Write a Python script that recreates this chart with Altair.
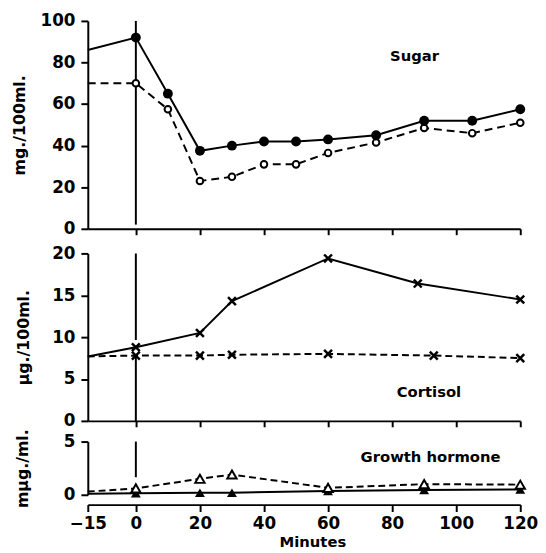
import altair as alt
import pandas as pd

FONT = "DejaVu Sans"

# ---- data ----
sugar_time = [-15, 0, 10, 20, 30, 40, 50, 60, 75, 90, 105, 120]
sugar_solid = [86, 92, 65, 37.5, 40, 42, 42, 43, 45, 52, 52, 57.5]
sugar_dashed = [70, 70, 57.5, 23, 25, 31, 31, 36.5, 41.5, 48.5, 46, 51]

cort_time_solid = [-15, 0, 20, 30, 60, 88, 120]
cort_solid = [7.7, 8.8, 10.5, 14.3, 19.4, 16.4, 14.5]
cort_time_dashed = [-15, 0, 20, 30, 60, 93, 120]
cort_dashed = [7.7, 7.8, 7.8, 7.9, 8.0, 7.8, 7.5]

gh_time = [-15, 0, 20, 30, 60, 90, 120]
gh_dashed = [0.3, 0.6, 1.5, 1.9, 0.65, 1.0, 0.95]
gh_solid = [0.1, 0.15, 0.2, 0.2, 0.35, 0.45, 0.5]

x_ticks = [-15, 0, 20, 40, 60, 80, 100, 120]
panel_labels = ["Sugar", "Cortisol", "Growth hormone"]
label_t = [87, 91.5, 92]
label_v = [83, 3.4, 3.5]

W = 439
xscale = alt.Scale(domain=[-15, 120], nice=False, zero=False)


def df(t, v):
    return pd.DataFrame({"t": t, "v": v})


def markers(t, v):
    d = df(t, v)
    return d[d["t"] > -15]


def x_enc(bottom):
    common = dict(grid=False, domainColor="black", tickColor="black",
                  domainWidth=2, tickWidth=2, labelFlush=False)
    if bottom:
        ax = alt.Axis(values=x_ticks, title="Minutes", offset=10, tickSize=7,
                      labelPadding=4, labelFont=FONT, labelFontSize=17,
                      labelFontWeight="bold", labelColor="black",
                      titleFont=FONT, titleFontSize=15, titleFontWeight="bold",
                      titleColor="black", titlePadding=4, titleX=228, **common)
    else:
        ax = alt.Axis(values=x_ticks[1:], labels=False, title=None, tickSize=6,
                      **common)
    return alt.X("t:Q", scale=xscale, axis=ax)


def y_enc(domain, values, title, tx):
    ax = alt.Axis(values=values, title=title, grid=False, domainColor="black",
                  tickColor="black", domainWidth=2, tickWidth=2, tickSize=7,
                  labelPadding=6, labelFont=FONT, labelFontSize=17,
                  labelFontWeight="bold", labelColor="black",
                  titleFont=FONT, titleFontSize=16, titleFontWeight="bold",
                  titleColor="black", titleX=tx, titleBaseline="alphabetic")
    return alt.Y("v:Q", scale=alt.Scale(domain=domain, nice=False), axis=ax)


def line(d, dash, X, Y):
    kw = dict(color="black", strokeWidth=2)
    if dash:
        kw["strokeDash"] = dash
    return alt.Chart(d).mark_line(**kw).encode(x=X, y=Y)


def label(i, X, Y):
    d = pd.DataFrame({"t": [label_t[i]], "v": [label_v[i]], "s": [panel_labels[i]]})
    return alt.Chart(d).mark_text(font=FONT, fontSize=15, fontWeight="bold",
                                  color="black").encode(x=X, y=Y, text="s:N")


def vrule(top, bottom, X, Y, dash=None):
    d = pd.DataFrame({"t": [0], "v": [top], "v2": [bottom]})
    kw = dict(color="black", strokeWidth=2)
    if dash:
        kw["strokeDash"] = dash
    return alt.Chart(d).mark_rule(**kw).encode(x=X, y=Y, y2="v2:Q")


# ---- Sugar panel ----
X1 = x_enc(False)
Y1 = y_enc([0, 100], [0, 20, 40, 60, 80, 100], "mg./100ml.", -64)
sugar = alt.layer(
    vrule(100, 2, X1, Y1),
    line(df(sugar_time, sugar_dashed), [8, 5], X1, Y1),
    line(df(sugar_time, sugar_solid), None, X1, Y1),
    alt.Chart(markers(sugar_time, sugar_dashed)).mark_point(
        shape="circle", filled=True, fill="white", stroke="black",
        strokeWidth=2, size=45, opacity=1).encode(x=X1, y=Y1),
    alt.Chart(markers(sugar_time, sugar_solid)).mark_point(
        shape="circle", filled=True, color="black", size=100, opacity=1
    ).encode(x=X1, y=Y1),
    label(0, X1, Y1),
).properties(width=W, height=211)

# ---- Cortisol panel ----
XSHAPE = "M-1,-1L1,1M1,-1L-1,1"
X2 = x_enc(False)
Y2 = y_enc([0, 20], [0, 5, 10, 15, 20], "µg./100ml.", -60)
cortisol = alt.layer(
    vrule(20, 0, X2, Y2, [88, 16, 300, 0]),
    line(df(cort_time_dashed, cort_dashed), [7, 4], X2, Y2),
    line(df(cort_time_solid, cort_solid), None, X2, Y2),
    alt.Chart(markers(cort_time_dashed, cort_dashed)).mark_point(
        shape=XSHAPE, filled=False, stroke="black", strokeWidth=2.5, size=64,
        opacity=1).encode(x=X2, y=Y2),
    alt.Chart(markers(cort_time_solid, cort_solid)).mark_point(
        shape=XSHAPE, filled=False, stroke="black", strokeWidth=2.5, size=64,
        opacity=1).encode(x=X2, y=Y2),
    label(1, X2, Y2),
).properties(width=W, height=170)

# ---- Growth hormone panel ----
X3 = x_enc(True)
Y3 = y_enc([0, 5], [0, 5], "mµg./ml.", -61)
gh = alt.layer(
    vrule(5, 1.65, X3, Y3),
    line(df(gh_time, gh_dashed), [7, 4], X3, Y3),
    line(df(gh_time, gh_solid), None, X3, Y3),
    alt.Chart(markers(gh_time, gh_solid)).mark_point(
        shape="triangle-up", filled=True, color="black", size=100, opacity=1
    ).encode(x=X3, y=Y3),
    alt.Chart(markers(gh_time, gh_dashed)).mark_point(
        shape="triangle-up", filled=True, fill="white", stroke="black",
        strokeWidth=2, size=90, opacity=1).encode(x=X3, y=Y3),
    label(2, X3, Y3),
).properties(width=W, height=54)

lower = alt.vconcat(cortisol, gh, spacing=21, bounds="flush")
chart = alt.vconcat(sugar, lower, spacing=25, bounds="flush").properties(
    padding={"left": 4, "top": 0, "right": 0, "bottom": 0}
).configure_view(stroke=None)

chart.save("out.html", embed_options={"renderer": "svg", "actions": False})
